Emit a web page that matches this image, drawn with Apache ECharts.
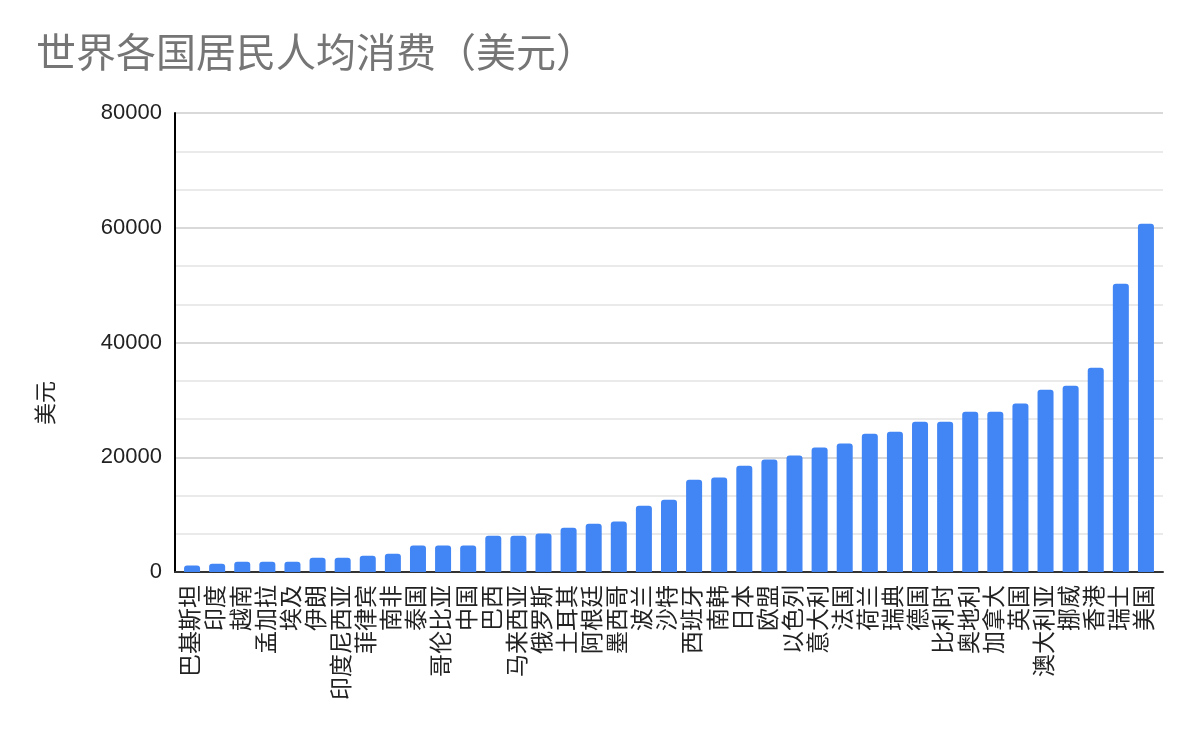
<!DOCTYPE html>
<html lang="zh">
<head>
    <meta charset="UTF-8">
    <title>世界各国居民人均消费</title>
    <style>
        html, body { margin: 0; padding: 0; background: #fff; }
        #chart { width: 1200px; height: 742px; }
    </style>
</head>
<body>
<div id="chart"></div>

<script src="https://cdn.jsdelivr.net/npm/echarts@6/dist/echarts.min.js"></script>
<script>
    const countries = [
        "巴基斯坦", "印度", "越南", "孟加拉", "埃及", "伊朗", "印度尼西亚", "菲律宾",
        "南非", "泰国", "哥伦比亚", "中国", "巴西", "马来西亚", "俄罗斯", "土耳其",
        "阿根廷", "墨西哥", "波兰", "沙特", "西班牙", "南韩", "日本", "欧盟",
        "以色列", "意大利", "法国", "荷兰", "瑞典", "德国", "比利时", "奥地利",
        "加拿大", "英国", "澳大利亚", "挪威", "香港", "瑞士", "美国"
    ];

    // consumption per person, USD
    const consumption = [
        1150, 1450, 1800, 1800, 1800, 2500, 2500, 2850,
        3200, 4600, 4600, 4600, 6300, 6300, 6700, 7700,
        8400, 8800, 11550, 12600, 16100, 16450, 18500, 19600,
        20300, 21700, 22400, 24100, 24450, 26200, 26200, 27950,
        27950, 29350, 31750, 32450, 35600, 50250, 60700
    ];

    const yTicks = [0, 20000, 40000, 60000, 80000];

    const font = '"Liberation Sans", Arial, "Noto Sans CJK SC", sans-serif';
    const yMin = yTicks[0];
    const yMax = yTicks[yTicks.length - 1];

    const chart = echarts.init(document.getElementById('chart'));
    chart.setOption({
        animation: false,
        title: {
            text: '世界各国居民人均消费（美元）',
            left: 31,
            top: 31,
            textStyle: {
                fontFamily: font,
                fontSize: 40,
                fontWeight: 'normal',
                color: '#757575'
            }
        },
        // grid 0 carries the value axis and gridlines, grid 1 the bars
        grid: [
            { left: 175, right: 37, top: 113, bottom: 170 },
            { left: 179.5, right: 41.5, top: 113, bottom: 170 }
        ],
        xAxis: [{
            gridIndex: 0,
            type: 'category',
            data: countries,
            axisLine: { lineStyle: { color: '#333', width: 2 } },
            axisTick: { show: false },
            axisLabel: { show: false }
        }, {
            gridIndex: 1,
            type: 'category',
            data: countries,
            axisLine: { show: false },
            axisTick: { show: false },
            axisLabel: {
                interval: 0,
                rotate: 90,
                margin: 13,
                fontFamily: font,
                fontSize: 23,
                color: '#222'
            }
        }],
        yAxis: [{
            gridIndex: 0,
            type: 'value',
            min: yMin,
            max: yMax,
            interval: 20000,
            axisLine: { show: true, lineStyle: { color: '#000', width: 2 } },
            axisTick: { show: false },
            axisLabel: {
                margin: 13,
                fontFamily: font,
                fontSize: 22,
                color: '#222',
                formatter: v => String(v)
            },
            splitLine: { lineStyle: { color: '#cccccc', width: 1.5 } },
            minorTick: { show: false, splitNumber: 3 },
            minorSplitLine: { show: true, lineStyle: { color: '#e4e4e4', width: 1.5 } }
        }, {
            gridIndex: 1,
            type: 'value',
            min: yMin,
            max: yMax,
            show: false
        }],
        graphic: [{
            type: 'text',
            x: 47,
            y: 403,
            rotation: Math.PI / 2,
            style: {
                text: '美元',
                font: '22px ' + font,
                fill: '#222',
                align: 'center',
                verticalAlign: 'middle'
            }
        }],
        series: [{
            type: 'bar',
            xAxisIndex: 1,
            yAxisIndex: 1,
            data: consumption,
            barWidth: 16,
            itemStyle: {
                color: '#4285f4',
                borderRadius: [3, 3, 0, 0]
            }
        }]
    });
</script>
</body>
</html>
